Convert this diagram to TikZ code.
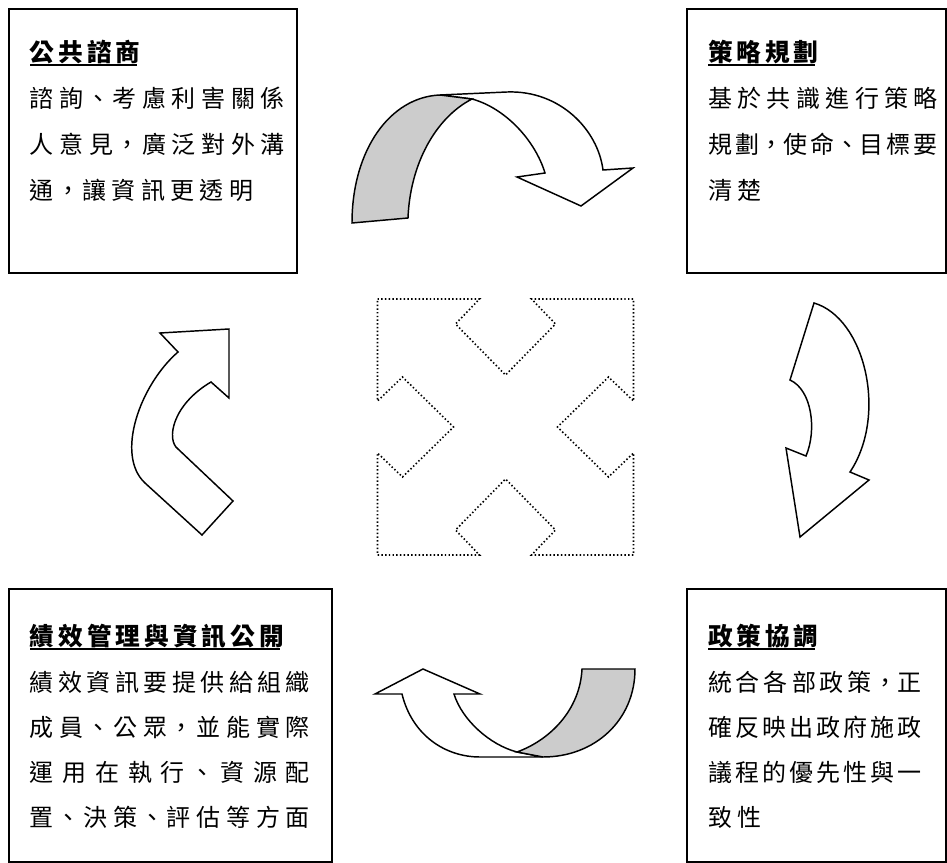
\documentclass[tikz,border=0pt]{standalone}
\usepackage{fontspec}
\newfontfamily\cjk{Noto Sans CJK TC}
\usetikzlibrary{calc}
\makeatletter
\def\pcomma{，}
\def\pdun{、}
\newcommand\pchar[1]{\ifx#1\pcomma\makebox[0.75em][c]{#1}\else\ifx#1\pdun\makebox[0.75em][c]{#1}\else#1\fi\fi}
\newcommand\spaced[2]{\@tfor\sp@c:=#2\do{\pchar\sp@c\hspace{#1}}}
\newcommand\just[2]{\makebox[#1][s]{\@tfor\sp@c:=#2\do{\pchar\sp@c\hfil}\unskip}}
\makeatother
\begin{document}
\begin{tikzpicture}[x=0.75pt,y=-0.75pt,
  boxst/.style={draw, line width=1.1pt, anchor=north west, inner sep=0pt, outer sep=0pt},
  txt/.style={anchor=west, inner sep=0pt, outer sep=0pt, font=\cjk\fontsize{18pt}{20pt}\selectfont},
  ttl/.style={anchor=west, inner sep=0pt, outer sep=0pt, font=\cjk\bfseries\fontsize{18.5pt}{20pt}\selectfont},
  uline/.style={line width=2.2pt},
  arr/.style={draw, line width=1.1pt, fill=white, line join=miter},
  greyarr/.style={arr, fill=black!20},
  dots/.style={draw, line width=1.2pt, dash pattern=on 1.1pt off 1.7pt}]
\useasboundingbox (0,0) rectangle (947,863);

% boxes
\node[boxst, minimum width=216pt, minimum height=198pt] (box1) at (9,9) {};
\node[boxst, minimum width=194.25pt, minimum height=198pt] (box2) at (687,9) {};
\node[boxst, minimum width=194.25pt, minimum height=204.75pt] (box3) at (687,589) {};
\node[boxst, minimum width=242.25pt, minimum height=204.75pt] (box4) at (9,589) {};

% box 1
\node[ttl] (t1) at (30,52) {\spaced{3pt}{公共諮商}};
\draw[uline] ($(t1.west)+(0,13)$) -- ($(t1.east)+(-4,13)$);
\node[txt] (a1) at (30,98) {\just{191pt}{諮詢、考慮利害關係}};
\node[txt] (a2) at (30,144) {\just{191pt}{人意見，廣泛對外溝}};
\node[txt] (a3) at (30,190) {\spaced{4pt}{通，讓資訊更透明}};

% box 2
\node[ttl] (t2) at (708,52) {\spaced{3pt}{策略規劃}};
\draw[uline] ($(t2.west)+(0,13)$) -- ($(t2.east)+(-4,13)$);
\node[txt] (b1) at (708,98) {\just{172.5pt}{基於共識進行策略}};
\node[txt] (b2) at (708,144) {\just{172.5pt}{規劃，使命、目標要}};
\node[txt] (b3) at (708,190) {\spaced{4pt}{清楚}};

% box 3
\node[ttl] (t3) at (708,636) {\spaced{3pt}{政策協調}};
\draw[uline] ($(t3.west)+(0,13)$) -- ($(t3.east)+(-4,13)$);
\node[txt] (c1) at (708,682) {\just{160.5pt}{統合各部政策，正}};
\node[txt] (c2) at (708,727) {\just{160.5pt}{確反映出政府施政}};
\node[txt] (c3) at (708,772) {\just{160.5pt}{議程的優先性與一}};
\node[txt] (c4) at (708,817) {\spaced{4pt}{致性}};

% box 4
\node[ttl] (t4) at (30,636) {\spaced{3pt}{績效管理與資訊公開}};
\draw[uline] ($(t4.west)+(0,13)$) -- ($(t4.east)+(-4,13)$);
\node[txt] (d1) at (30,682) {\just{210pt}{績效資訊要提供給組織}};
\node[txt] (d2) at (30,727) {\just{210pt}{成員、公眾，並能實際}};
\node[txt] (d3) at (30,772) {\just{210pt}{運用在執行、資源配}};
\node[txt] (d4) at (30,817) {\just{210pt}{置、決策、評估等方面}};

% top arrow
\path[arr] (440,95) -- (507,92) .. controls (560,90) and (598,130) .. (603,170)
  -- (633,168) -- (581,206) -- (517,177) -- (545,173)
  .. controls (535,140) and (505,108) .. (472,99) -- cycle;
\path[greyarr] (352,223) .. controls (352,150) and (390,97) .. (440,95) -- (472,99)
  .. controls (435,118) and (410,165) .. (408,218) -- cycle;

% right arrow
\path[arr] (814,303) .. controls (865,318) and (888,415) .. (850,472)
  -- (869,480) -- (800,537) -- (786,448) -- (806,456)
  .. controls (817,430) and (812,390) .. (790,380) -- cycle;

% bottom arrow
\path[arr] (402,694) .. controls (412,735) and (445,757) .. (480,757) -- (543,757) -- (517,752)
  .. controls (490,745) and (462,720) .. (454,694) -- (480,694) -- (423,669) -- (375,694) -- cycle;
\path[greyarr] (582,669) -- (635,669) .. controls (635,720) and (595,757) .. (543,757) -- (517,752)
  .. controls (550,740) and (580,710) .. (582,669) -- cycle;

% left arrow
\path[arr] (178,352) .. controls (140,385) and (115,455) .. (145,483) -- (202,535) -- (233,501)
  -- (178,449) .. controls (166,440) and (172,405) .. (211,382) -- (229,398) -- (229,329)
  -- (160,333) -- cycle;

% centre dotted shape
\begin{scope}[shift={(505.5,427)}]
\path[dots] (-128,-128) -- (-26,-128) -- (-50,-103) -- (0,-52) -- (50,-103) -- (26,-128)
  -- (128,-128) -- (128,-26) -- (103,-50) -- (52,0) -- (103,50) -- (128,26)
  -- (128,128) -- (26,128) -- (50,103) -- (0,52) -- (-50,103) -- (-26,128)
  -- (-128,128) -- (-128,26) -- (-103,50) -- (-52,0) -- (-103,-50) -- (-128,-26) -- cycle;
\end{scope}
\end{tikzpicture}
\end{document}
